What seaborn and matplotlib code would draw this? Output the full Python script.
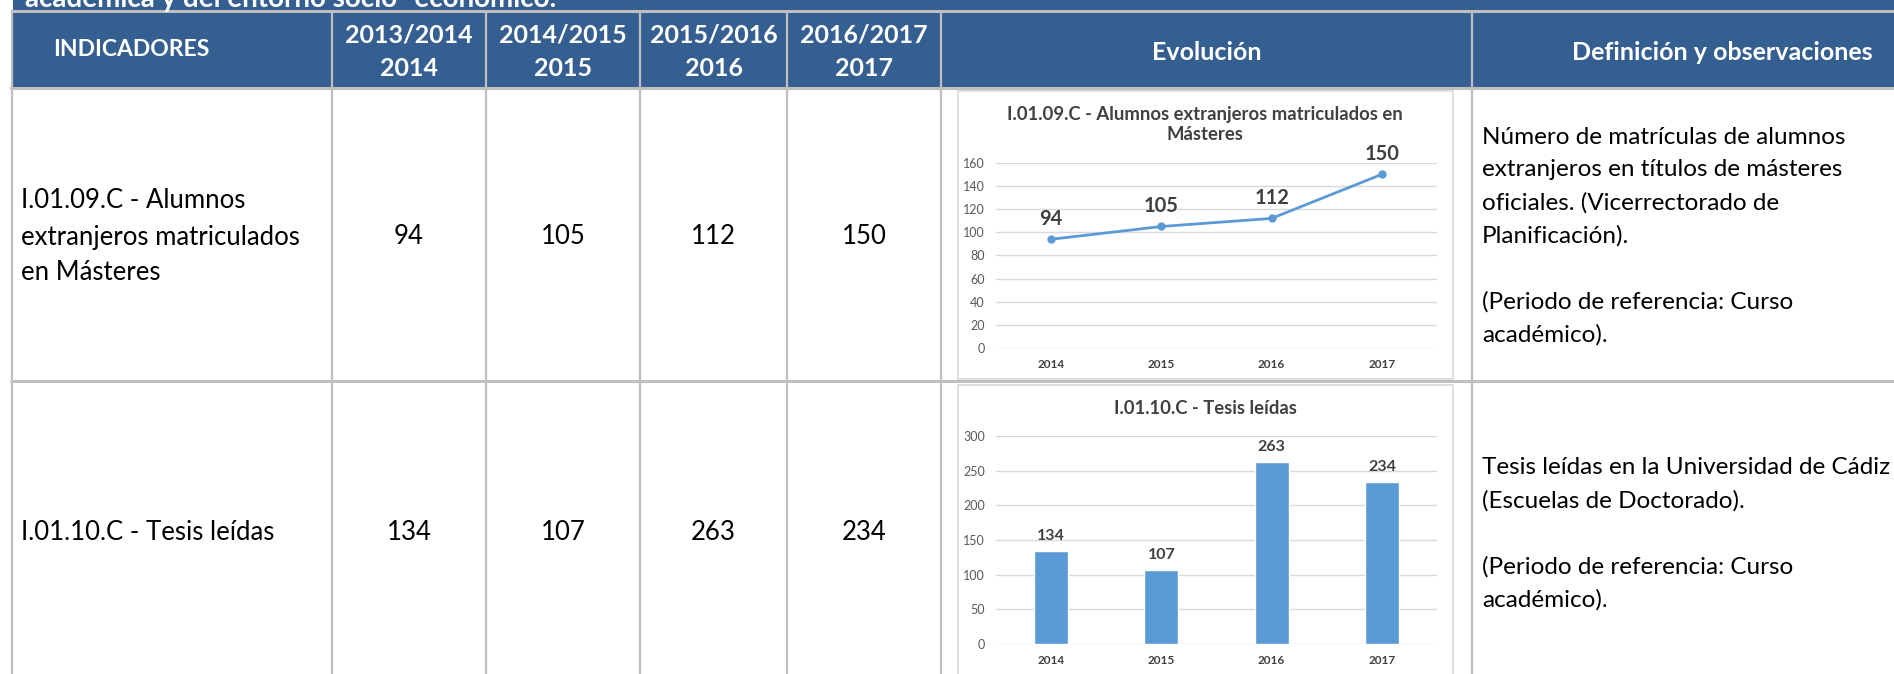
import matplotlib
matplotlib.use("Agg")
import matplotlib.pyplot as plt
from matplotlib.patches import Rectangle
import seaborn as sns
import pandas as pd

# ---------------- data ----------------
years = ["2014", "2015", "2016", "2017"]
periods = ["2013/2014", "2014/2015", "2015/2016", "2016/2017"]
masters = [94, 105, 112, 150]
tesis = [134, 107, 263, 234]

band_text = "académica y del entorno socio- económico."
headers = ["INDICADORES", "Evolución", "Definición y observaciones"]
ind_names = [["I.01.09.C - Alumnos", "extranjeros matriculados", "en Másteres"],
             ["I.01.10.C - Tesis leídas"]]
chart_titles = ["I.01.09.C - Alumnos extranjeros matriculados en\nMásteres",
                "I.01.10.C - Tesis leídas"]
definitions = [["Número de matrículas de alumnos",
                "extranjeros en títulos de másteres",
                "oficiales. (Vicerrectorado de",
                "Planificación).",
                "",
                "(Periodo de referencia: Curso",
                "académico)."],
               ["Tesis leídas en la Universidad de Cádiz",
                "(Escuelas de Doctorado).",
                "",
                "(Periodo de referencia: Curso",
                "académico)."]]

# ---------------- style ----------------
sns.set_theme(style="white")
plt.rcParams["font.family"] = ["Lato", "DejaVu Sans"]

W, H = 1894, 674
fig = plt.figure(figsize=(W / 100, H / 100), dpi=100)
fig.patch.set_facecolor("white")

bg = fig.add_axes([0, 0, 1, 1], zorder=0)
bg.set_xlim(0, W)
bg.set_ylim(H, 0)
bg.axis("off")

HEAD = "#365F91"
LINE = "#BFBFBF"
BLUE = "#5B9BD5"

# top band and header
bg.add_patch(Rectangle((13, 0), W, 10, color=HEAD, lw=0))
bg.add_patch(Rectangle((11, 10), W, 3, color=LINE, lw=0))
bg.add_patch(Rectangle((13, 13), W, 75, color=HEAD, lw=0))
t = bg.text(25, 6.5, band_text, color="white", fontsize=20, fontweight="bold",
            va="baseline", ha="left")
t.set_clip_path(Rectangle((13, 0), W, 10, transform=bg.transData))

cols = [11.5, 332, 486, 640, 787, 941, 1472]
for i, x in enumerate(cols):
    bg.plot([x, x], [10, H], color=LINE, lw=1.6, solid_capstyle="butt")
bg.plot([11, W], [88, 88], color=LINE, lw=2.2)
bg.plot([11, W], [381, 381], color=LINE, lw=2.2)

# header texts
bg.text(131, 50, headers[0], color="white", fontsize=16.5, fontweight="bold",
        ha="center", va="center")
for i, p in enumerate(periods):
    cx = (cols[i + 1] + cols[i + 2]) / 2
    bg.text(cx, 35, p, color="white", fontsize=18, fontweight="bold",
            ha="center", va="center")
    bg.text(cx, 68, years[i], color="white", fontsize=18, fontweight="bold",
            ha="center", va="center")
bg.text((941 + 1472) / 2, 52, headers[1], color="white", fontsize=18,
        fontweight="bold", ha="center", va="center")
bg.text(1722, 52, headers[2], color="white", fontsize=18,
        fontweight="bold", ha="center", va="center")

# row texts
row_mid = [237, 532]
row_vals = [masters, tesis]
for r in range(2):
    lines = ind_names[r]
    n = len(lines)
    for k, ln in enumerate(lines):
        y = row_mid[r] + (k - (n - 1) / 2) * 36
        bg.text(21, y, ln, color="black", fontsize=18.5, ha="left", va="center")
    for i, v in enumerate(row_vals[r]):
        cx = (cols[i + 1] + cols[i + 2]) / 2
        bg.text(cx, row_mid[r], str(v), color="black", fontsize=18.5,
                ha="center", va="center")

def_top = [137, 468]
for r in range(2):
    for k, ln in enumerate(definitions[r]):
        if ln:
            bg.text(1482, def_top[r] + k * 33, ln, color="black", fontsize=17.5,
                    ha="left", va="center")

# chart boxes
bg.add_patch(Rectangle((958, 91), 495, 288, facecolor="white",
                       edgecolor="#D9D9D9", lw=1.2))
bg.add_patch(Rectangle((958, 385), 495, 300, facecolor="white",
                       edgecolor="#D9D9D9", lw=1.2))

# ---------------- chart 1: line ----------------
ax1 = fig.add_axes([996 / W, 1 - 348.3 / H, 441 / W, (348.3 - 162.7) / H], zorder=2)
df1 = pd.DataFrame({"year": years, "value": masters})
sns.lineplot(data=df1, x="year", y="value", ax=ax1, color=BLUE, linewidth=2,
             marker="o", markersize=6, markeredgewidth=0, sort=False)
for i, v in enumerate(masters):
    ax1.annotate(str(v), (i, v), xytext=(0, 20), textcoords="offset pixels",
                 ha="center", va="center", fontsize=14.5, fontweight="bold",
                 color="#404040")
ax1.set_ylim(0, 160)
ax1.set_yticks(range(0, 161, 20))
ax1.set_xlim(-0.5, 3.5)

# ---------------- chart 2: bars ----------------
ax2 = fig.add_axes([996 / W, 1 - 644 / H, 441 / W, 208 / H], zorder=2)
df2 = pd.DataFrame({"year": years, "value": tesis})
sns.barplot(data=df2, x="year", y="value", ax=ax2, color=BLUE, width=0.31,
            saturation=1)
for i, v in enumerate(tesis):
    ax2.annotate(str(v), (i, v), xytext=(0, 15), textcoords="offset pixels",
                 ha="center", va="center", fontsize=11.5, fontweight="bold",
                 color="#404040")
ax2.set_ylim(0, 300)
ax2.set_yticks(range(0, 301, 50))
ax2.set_xlim(-0.5, 3.5)

for ax in (ax1, ax2):
    ax.set_facecolor("none")
    ax.set_xlabel("")
    ax.set_ylabel("")
    for s in ax.spines.values():
        s.set_visible(False)
    ax.yaxis.grid(True, color="#D9D9D9", lw=1)
    ax.set_axisbelow(True)
    ax.tick_params(axis="y", length=0, pad=8, labelsize=9, labelcolor="#595959")
    ax.tick_params(axis="x", length=0, pad=8, labelsize=8.5)
    for lab in ax.get_xticklabels():
        lab.set_fontweight("bold")
        lab.set_color("#404040")

# chart titles
bg.text(1205, 124.5, chart_titles[0], ha="center", va="center", fontsize=13.3,
        fontweight="bold", color="#404040", linespacing=1.2)
bg.text(1205, 409, chart_titles[1], ha="center", va="center", fontsize=13.3,
        fontweight="bold", color="#404040")

fig.savefig("out.png", dpi=100, facecolor="white")
